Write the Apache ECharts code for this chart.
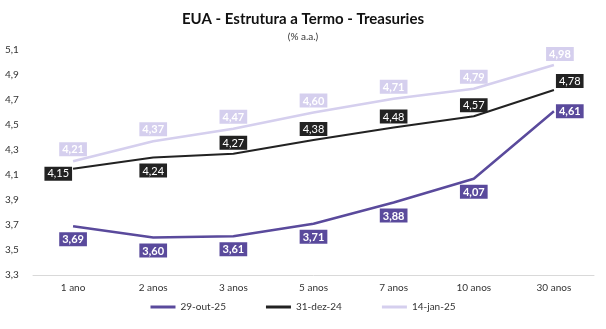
<!DOCTYPE html>
<html><head><meta charset="utf-8">
<script src="https://cdn.jsdelivr.net/npm/echarts@6/dist/echarts.min.js"></script>
<style>html,body{margin:0;padding:0;background:#fff}#c{width:606px;height:329px}</style>
</head><body><div id="c"></div>
<script>
const categories = ['1 ano','2 anos','3 anos','5 anos','7 anos','10 anos','30 anos'];
const seriesNames = ['29-out-25','31-dez-24','14-jan-25'];
const s29out25 = [3.69, 3.60, 3.61, 3.71, 3.88, 4.07, 4.61];
const s31dez24 = [4.15, 4.24, 4.27, 4.38, 4.48, 4.57, 4.78];
const s14jan25 = [4.21, 4.37, 4.47, 4.60, 4.71, 4.79, 4.98];
const yTicks = [3.3, 3.5, 3.7, 3.9, 4.1, 4.3, 4.5, 4.7, 4.9, 5.1];

const colors = ['#5a4a9c', '#222222', '#d5cfee'];
const fmt = v => v.toFixed(2).replace('.', ',');
const FONT = 'Lato, "DejaVu Sans", sans-serif';

function labelFor(seriesIdx, i) {
  const base = {show: true, color: '#fff', backgroundColor: colors[seriesIdx],
    padding: [2, 3, 1, 3], fontSize: 11, fontFamily: FONT,
    fontWeight: seriesIdx === 1 ? 'normal' : 'bold',
    formatter: p => fmt(p.value)};
  if (seriesIdx === 0) {
    if (i === 6) return Object.assign(base, {position: 'right', distance: 2});
    return Object.assign(base, {position: 'bottom', distance: 6});
  }
  if (seriesIdx === 1) {
    if (i === 0) return Object.assign(base, {position: 'left', distance: 1, offset: [0, 5]});
    if (i === 1) return Object.assign(base, {position: 'bottom', distance: 6});
    if (i === 6) return Object.assign(base, {position: 'right', distance: 2, offset: [0, -9]});
    return Object.assign(base, {position: 'top', distance: 4});
  }
  if (i === 6) return Object.assign(base, {position: 'top', distance: 4, offset: [6, 0]});
  return Object.assign(base, {position: 'top', distance: 5});
}

const allData = [s29out25, s31dez24, s14jan25];
const series = allData.map((arr, si) => ({
  name: seriesNames[si], type: 'line', data: arr.map((v, i) => ({value: v, label: labelFor(si, i)})),
  symbol: 'circle', symbolSize: 0, showSymbol: true, smooth: false, z: 10 - si,
  lineStyle: {color: colors[si], width: si === 1 ? 2 : 2.5},
  itemStyle: {color: colors[si]}
}));

const chart = echarts.init(document.getElementById('c'));
chart.setOption({
  animation: false,
  title: [
    {text: 'EUA - Estrutura a Termo - Treasuries', left: 'center', top: 7,
     textStyle: {fontSize: 15, fontWeight: 'bold', color: '#111', fontFamily: FONT}},
    {text: '(% a.a.)', left: 'center', top: 27,
     textStyle: {fontSize: 10, fontWeight: 'normal', color: '#333', fontFamily: FONT}}
  ],
  grid: {left: 33, right: 12, top: 50, bottom: 54},
  legend: {bottom: 12, left: 'center', itemWidth: 25, itemHeight: 3, itemGap: 40,
    icon: 'rect', textStyle: {fontSize: 10, color: '#333', fontFamily: FONT},
    data: seriesNames},
  xAxis: {type: 'category', data: categories, boundaryGap: true,
    axisLine: {lineStyle: {color: '#d9d9d9', width: 1}}, axisTick: {show: false},
    axisLabel: {fontSize: 10, color: '#333', margin: 8, fontFamily: FONT}},
  yAxis: {type: 'value', min: yTicks[0], max: yTicks[yTicks.length - 1], interval: 0.2,
    axisLine: {show: false}, axisTick: {show: false}, splitLine: {show: false},
    axisLabel: {fontSize: 10, color: '#333', margin: 28, align: 'left', fontFamily: FONT,
      formatter: v => v.toFixed(1).replace('.', ',')}},
  series: series
});
</script></body></html>
